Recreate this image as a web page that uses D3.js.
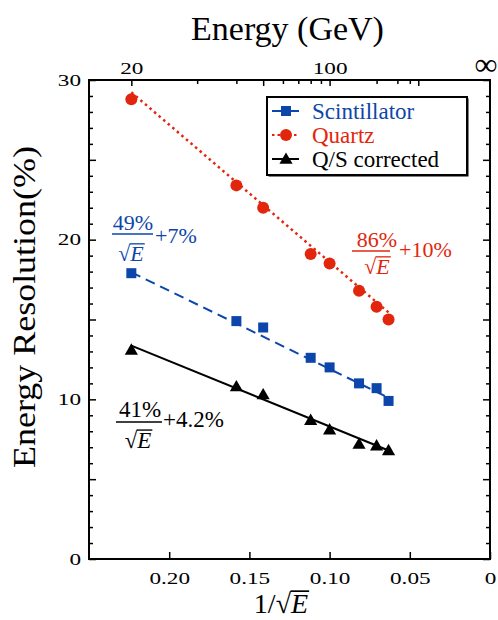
<!DOCTYPE html>
<html><head><meta charset="utf-8">
<script src="https://cdn.jsdelivr.net/npm/d3@7"></script>
<style>
body{margin:0;background:#fff}
svg text{font-family:"Liberation Serif","Times New Roman",serif !important}
</style>
</head><body><svg id="c" width="498" height="620"></svg>
<script>
// ---- data ----
const energies = [20, 40, 50, 80, 100, 150, 200, 250];           // GeV
const scintillator = [17.9, 14.9, 14.5, 12.6, 12.0, 11.0, 10.7, 9.9];
const quartz = [28.8, 23.4, 22.0, 19.1, 18.5, 16.8, 15.8, 15.0];
const qsCorrected = [13.1, 10.8, 10.3, 8.7, 8.1, 7.2, 7.1, 6.8];
const seriesNames = ["Scintillator", "Quartz", "Q/S corrected"];
const stochastic = [49, 86, 41];   // % / sqrt(E)
const constantTerm = [7, 10, 4.2]; // %
const fitNumerators = ["49%", "86%", "41%"];
const fitConstants = ["+7%", "+10%", "+4.2%"];
const xTickValues = [0.20, 0.15, 0.10, 0.05, 0];
const xTickLabels = ["0.20", "0.15", "0.10", "0.05", "0"];
const yLabelTicks = [0, 10, 20, 30];
const energyTicks = [20, 30, 40, 50, 60, 70, 80, 90, 100, 200, 300, 400, 500];
const energyTickLabels = ["20", "", "", "", "", "", "", "", "100", "", "", "", ""];
const energyLongTicks = [20, 50, 100, 500];

(function () {
// ---- layout ----
const L = 89, R = 490, T = 80, B = 559;
const FONT = '"Liberation Serif","Times New Roman",serif';
const BLUE = "#0c46aa", RED = "#e2260d", BLACK = "#000";
const colors = [BLUE, RED, BLACK];
const svg = d3.select("#c").attr("font-family", FONT);

const x = d3.scaleLinear().domain([0.25, 0]).range([L, R]);
const y = d3.scaleLinear().domain([0, 30]).range([B, T]);
const inv = e => 1 / Math.sqrt(e);

// ---- axes ----
const STRETCH = 1.45, TFS = 16;
const axB = svg.append("g").attr("transform", `translate(0,${B})`)
  .call(d3.axisBottom(x).tickValues(xTickValues).tickFormat((d, i) => xTickLabels[i])
    .tickSizeInner(-7).tickSizeOuter(0).tickPadding(14));
axB.attr("font-family", FONT);
axB.select(".domain").remove();
axB.selectAll("line").attr("stroke", "#000").attr("stroke-width", 1.5);
axB.selectAll("text").attr("font-size", TFS).attr("fill", "#000")
  .attr("transform", `scale(${STRETCH},1)`);

const yTicks = d3.range(0, 31);
const axL = svg.append("g").attr("transform", `translate(${L},0)`)
  .call(d3.axisLeft(y).tickValues(yTicks).tickFormat(d => yLabelTicks.includes(d) ? d : "")
    .tickSizeInner(-4).tickSizeOuter(0).tickPadding(6));
axL.attr("font-family", FONT);
axL.select(".domain").remove();
axL.selectAll("line").attr("stroke", "#000").attr("stroke-width", 1.5)
  .attr("x2", d => d % 5 === 0 ? 7 : 4);
axL.selectAll("text").attr("font-size", TFS).attr("fill", "#000")
  .attr("x", -8 / STRETCH).attr("transform", `scale(${STRETCH},1)`);

const axR = svg.append("g").attr("transform", `translate(${R},0)`)
  .call(d3.axisRight(y).tickValues(yTicks).tickFormat("").tickSizeInner(-4).tickSizeOuter(0));
axR.select(".domain").remove();
axR.selectAll("line").attr("stroke", "#000").attr("stroke-width", 1.5)
  .attr("x2", d => d % 5 === 0 ? -7 : -4);

const axT = svg.append("g").attr("transform", `translate(0,${T})`)
  .call(d3.axisTop(x).tickValues(energyTicks.map(inv)).tickFormat((d, i) => energyTickLabels[i])
    .tickSizeInner(-4).tickSizeOuter(0).tickPadding(6));
axT.attr("font-family", FONT);
axT.select(".domain").remove();
axT.selectAll("line").attr("stroke", "#000").attr("stroke-width", 1.5)
  .attr("y2", (d, i) => energyLongTicks.includes(energyTicks[i]) ? 6 : 4);
axT.selectAll("text").attr("font-size", TFS).attr("fill", "#000")
  .attr("transform", `scale(${STRETCH},1)`);
svg.append("text").attr("x", x(0) - 4).attr("y", T - 5).attr("text-anchor", "middle")
  .attr("font-size", 32).text("∞");

// frame
svg.append("rect").attr("x", L).attr("y", T).attr("width", R - L).attr("height", B - T)
  .attr("fill", "none").attr("stroke", "#000").attr("stroke-width", 2);

// titles
svg.append("text").attr("x", (L + R) / 2 - 2).attr("y", 40).attr("text-anchor", "middle")
  .attr("font-size", 34).text("Energy (GeV)");
svg.append("text").attr("transform", `translate(35,307) rotate(-90) scale(1.16,1)`)
  .attr("text-anchor", "middle").attr("font-size", 31).text("Energy Resolution(%)");

// "prefix √E" helper with vinculum over E, centered at cx, baseline by
function sqrtE(g, prefix, cx, by, fs, color) {
  const t = g.append("text").attr("y", by).attr("font-size", fs).attr("fill", color);
  t.append("tspan").text(prefix + "√");
  t.append("tspan").attr("font-style", "italic").text("E");
  const n = t.node();
  const total = n.getComputedTextLength();
  const wRad = n.getSubStringLength(0, prefix.length + 1);
  const x0 = cx - total / 2;
  t.attr("x", x0);
  g.append("line").attr("x1", x0 + wRad - 0.5).attr("x2", x0 + total + 1)
    .attr("y1", by - fs * 0.78).attr("y2", by - fs * 0.78)
    .attr("stroke", color).attr("stroke-width", fs * 0.06);
}

sqrtE(svg, "1/", 281, 613, 28, "#000");

// ---- fit lines ----
const series = [scintillator, quartz, qsCorrected];
const x0v = inv(energies[0]), x1v = inv(energies[energies.length - 1]);
const dashes = ["10,6", "2.5,3.5", null];
const widths = [2, 2.5, 2];
series.forEach((s, i) => {
  svg.append("line")
    .attr("x1", x(x0v)).attr("y1", y(stochastic[i] * x0v + constantTerm[i]))
    .attr("x2", x(x1v)).attr("y2", y(stochastic[i] * x1v + constantTerm[i]))
    .attr("stroke", colors[i]).attr("stroke-width", widths[i])
    .attr("stroke-dasharray", dashes[i]);
});

// ---- markers ----
function marker(g, type, cx, cy, color) {
  if (type === 0) g.append("rect").attr("x", cx - 5).attr("y", cy - 5).attr("width", 10).attr("height", 10).attr("fill", color);
  else if (type === 1) g.append("circle").attr("cx", cx).attr("cy", cy).attr("r", 6).attr("fill", color);
  else g.append("path").attr("d", d3.symbol(d3.symbolTriangle, 75)()).attr("transform", `translate(${cx},${cy + 1})`).attr("fill", color);
}
series.forEach((s, i) => {
  s.forEach((v, j) => marker(svg, i, x(inv(energies[j])), y(v), colors[i]));
});

// ---- annotations ----
const ann = [
  {nx: 133, nb: 230, l1: 112, l2: 153, ly: 234, db: 261, dx: 131, px: 155, pb: 243, fs: 22},
  {nx: 377, nb: 247, l1: 352, l2: 390, ly: 251, db: 274, dx: 377, px: 399, pb: 257, fs: 22},
  {nx: 140, nb: 417, l1: 116, l2: 162, ly: 422, db: 448, dx: 138, px: 163, pb: 427, fs: 23}
];
ann.forEach((a, i) => {
  const c = colors[i];
  svg.append("text").attr("x", a.nx).attr("y", a.nb).attr("text-anchor", "middle")
    .attr("font-size", a.fs).attr("fill", c).text(fitNumerators[i]);
  svg.append("line").attr("x1", a.l1).attr("x2", a.l2).attr("y1", a.ly).attr("y2", a.ly)
    .attr("stroke", c).attr("stroke-width", 1.6);
  sqrtE(svg, "", a.dx, a.db, a.fs, c);
  svg.append("text").attr("x", a.px).attr("y", a.pb).attr("font-size", a.fs).attr("fill", c)
    .text(fitConstants[i]);
});

// ---- legend ----
const lg = svg.append("g");
lg.append("rect").attr("x", 268.5).attr("y", 98.5).attr("width", 200).attr("height", 78).attr("fill", "#000");
lg.append("rect").attr("x", 267).attr("y", 97).attr("width", 200).attr("height", 78)
  .attr("fill", "#fff").attr("stroke", "#000").attr("stroke-width", 2);
const rowY = [111, 135, 159];
seriesNames.forEach((nm, i) => {
  const yy = rowY[i];
  lg.append("line").attr("x1", 272).attr("x2", 299).attr("y1", yy).attr("y2", yy)
    .attr("stroke", colors[i]).attr("stroke-width", 2).attr("stroke-dasharray", i === 1 ? "2.5,3" : null);
  marker(lg, i, 286, yy, colors[i]);
  lg.append("text").attr("x", 312).attr("y", yy + 8).attr("font-size", 23).attr("fill", colors[i]).text(nm);
});
})();
</script></body></html>
